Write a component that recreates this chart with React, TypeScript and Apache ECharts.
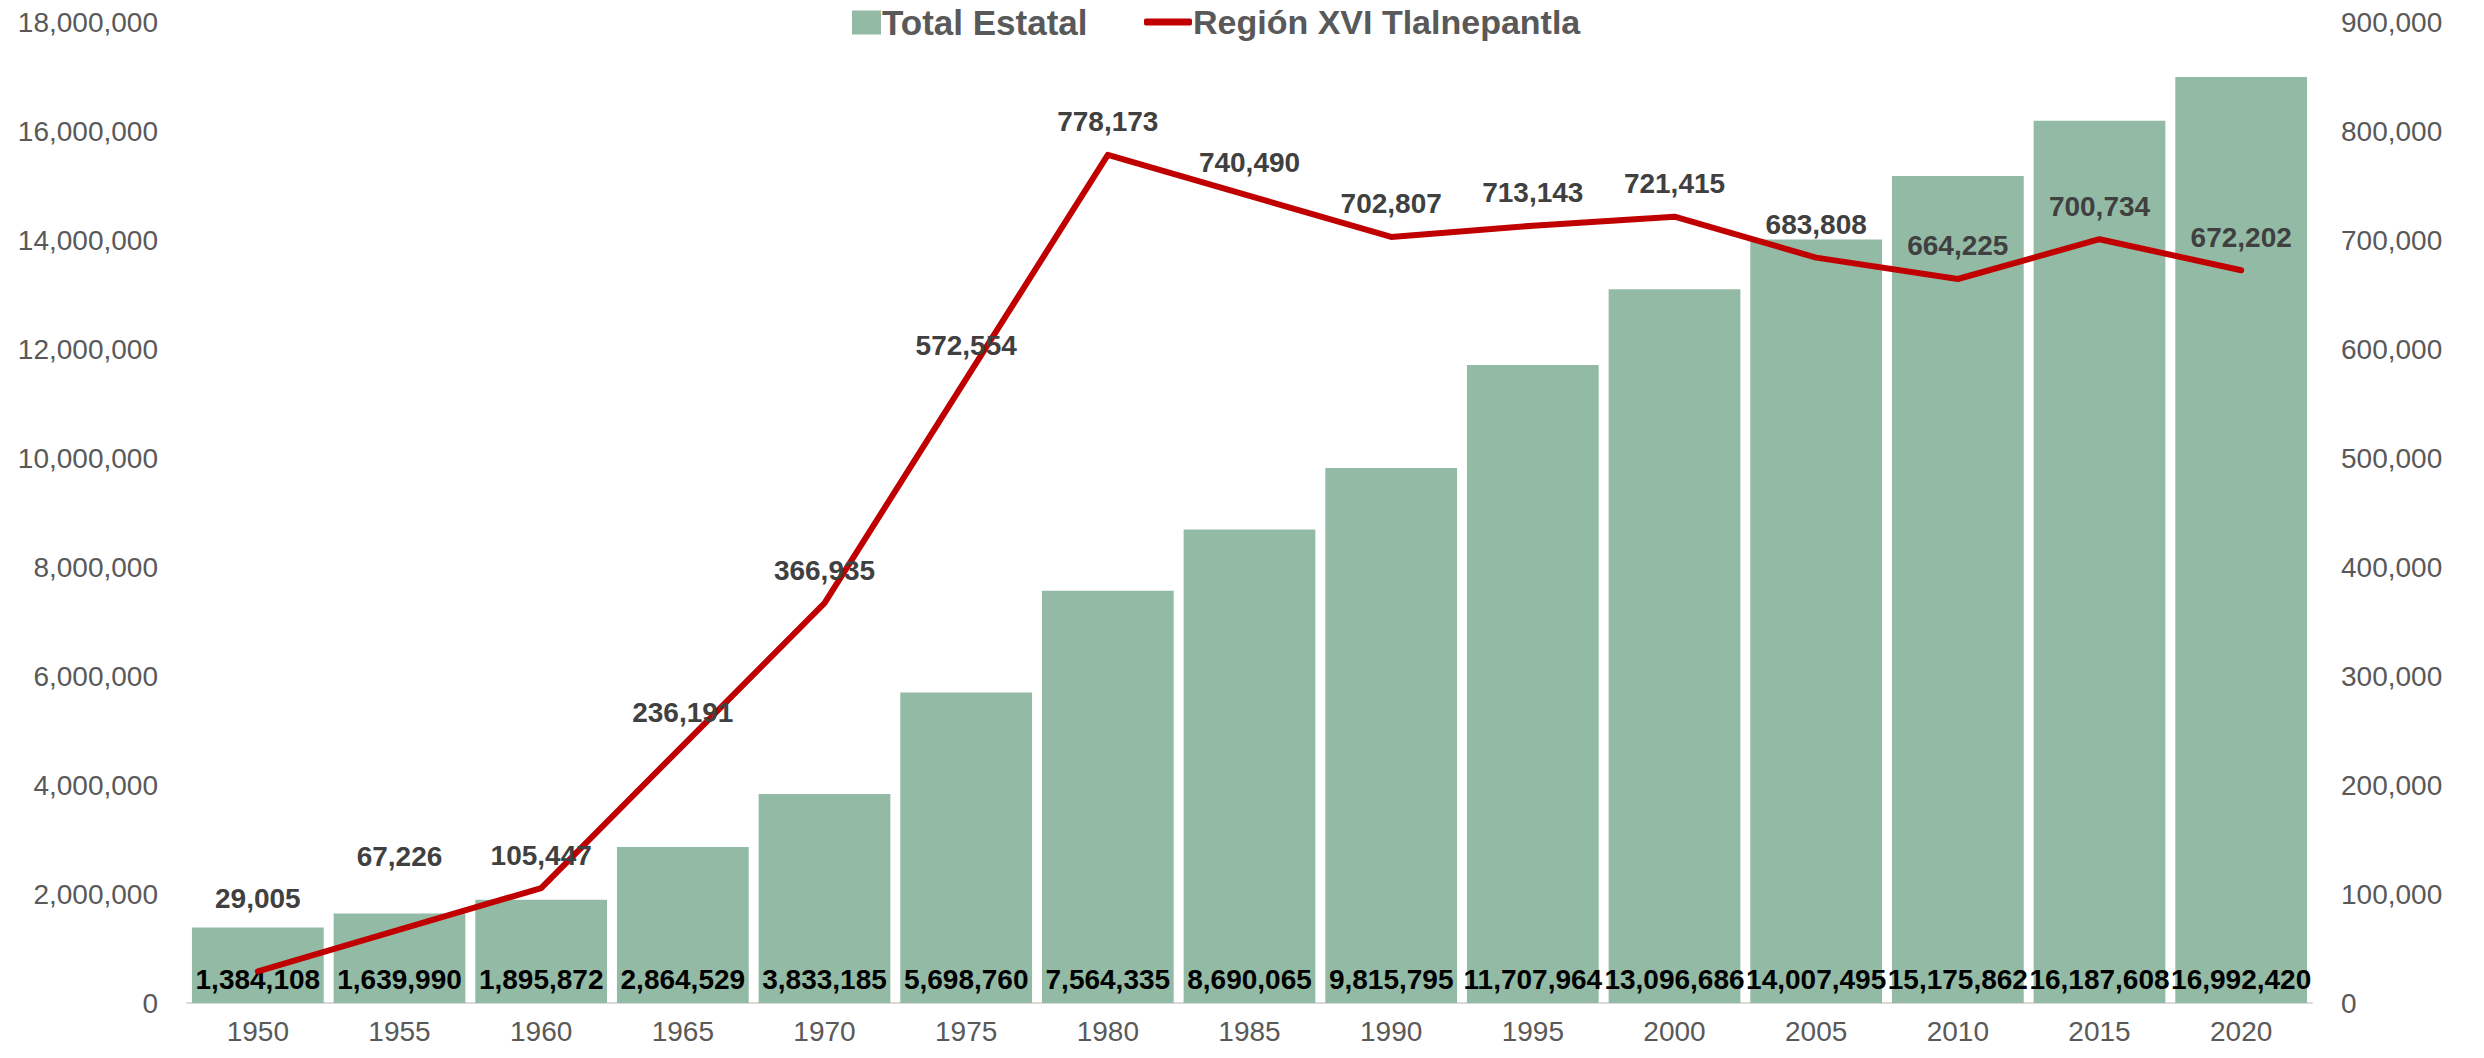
import React, { useEffect, useRef } from "react";
import * as echarts from "echarts";

const years = ["1950","1955","1960","1965","1970","1975","1980","1985","1990","1995","2000","2005","2010","2015","2020"];
const totalEstatal = [1384108,1639990,1895872,2864529,3833185,5698760,7564335,8690065,9815795,11707964,13096686,14007495,15175862,16187608,16992420];
const regionXVI = [29005,67226,105447,236191,366935,572554,778173,740490,702807,713143,721415,683808,664225,700734,672202];

const FONT = "'Liberation Sans', Arial, sans-serif";
const fmt = (v: number) => v.toLocaleString("en-US");

export default function App() {
  const ref = useRef<HTMLDivElement>(null);
  useEffect(() => {
    document.body.style.margin = "0";
    const chart = echarts.init(ref.current!, null, { renderer: "svg" });
    chart.setOption({
      animation: false,
      textStyle: { fontFamily: FONT },
      legend: [
        {
          data: ["Total Estatal"],
          left: 847,
          top: 0,
          icon: "rect",
          itemWidth: 29,
          itemHeight: 24,
          itemGap: 4,
          textStyle: { fontFamily: FONT, fontSize: 35, fontWeight: "bold", color: "#595959", padding: [0, 0, 0, -4] },
        },
        {
          data: ["Región XVI Tlalnepantla"],
          left: 1139,
          top: 0,
          icon: "roundRect",
          itemWidth: 48,
          itemHeight: 7,
          textStyle: { fontFamily: FONT, fontSize: 34, fontWeight: "bold", color: "#595959", padding: [0, 0, 0, -4] },
        },
      ],
      grid: { left: 187, right: 172, top: 22, bottom: 55, containLabel: false },
      xAxis: {
        type: "category",
        data: years,
        axisLine: { lineStyle: { color: "#D9D9D9", width: 2 } },
        axisTick: { show: false },
        axisLabel: { color: "#595959", fontSize: 28, margin: 14, fontFamily: FONT },
      },
      yAxis: [
        {
          type: "value",
          min: 0,
          max: 18000000,
          interval: 2000000,
          splitLine: { show: false },
          axisLine: { show: false },
          axisTick: { show: false },
          axisLabel: { color: "#595959", fontSize: 28, margin: 29, fontFamily: FONT, formatter: (v: number) => fmt(v) },
        },
        {
          type: "value",
          min: 0,
          max: 900000,
          interval: 100000,
          splitLine: { show: false },
          axisLine: { show: false },
          axisTick: { show: false },
          axisLabel: { color: "#595959", fontSize: 28, margin: 29, fontFamily: FONT, formatter: (v: number) => fmt(v) },
        },
      ],
      series: [
        {
          name: "Total Estatal",
          type: "bar",
          yAxisIndex: 0,
          data: totalEstatal,
          barCategoryGap: "7%",
          itemStyle: { color: "#93BAA5" },
          label: {
            show: true,
            position: "insideBottom",
            distance: 10,
            color: "#000000",
            fontSize: 28,
            fontWeight: "bold",
            fontFamily: FONT,
            formatter: (p: any) => fmt(p.value),
          },
          z: 1,
        },
        {
          name: "Región XVI Tlalnepantla",
          type: "line",
          yAxisIndex: 1,
          data: regionXVI.map((v, i) => (i < 2 ? { value: v, label: { distance: 58 } } : v)),
          symbol: "circle",
          symbolSize: 2,
          showSymbol: true,
          lineStyle: { color: "#C00000", width: 6, cap: "round", join: "round" },
          itemStyle: { color: "#C00000" },
          label: {
            show: true,
            position: "top",
            distance: 18,
            color: "#404040",
            fontSize: 28,
            fontWeight: "bold",
            fontFamily: FONT,
            formatter: (p: any) => fmt(p.value),
          },
          labelLayout: { hideOverlap: false },
          z: 3,
        },
      ],
    });
    return () => chart.dispose();
  }, []);
  return <div ref={ref} style={{ width: 2484, height: 1058 }} />;
}
